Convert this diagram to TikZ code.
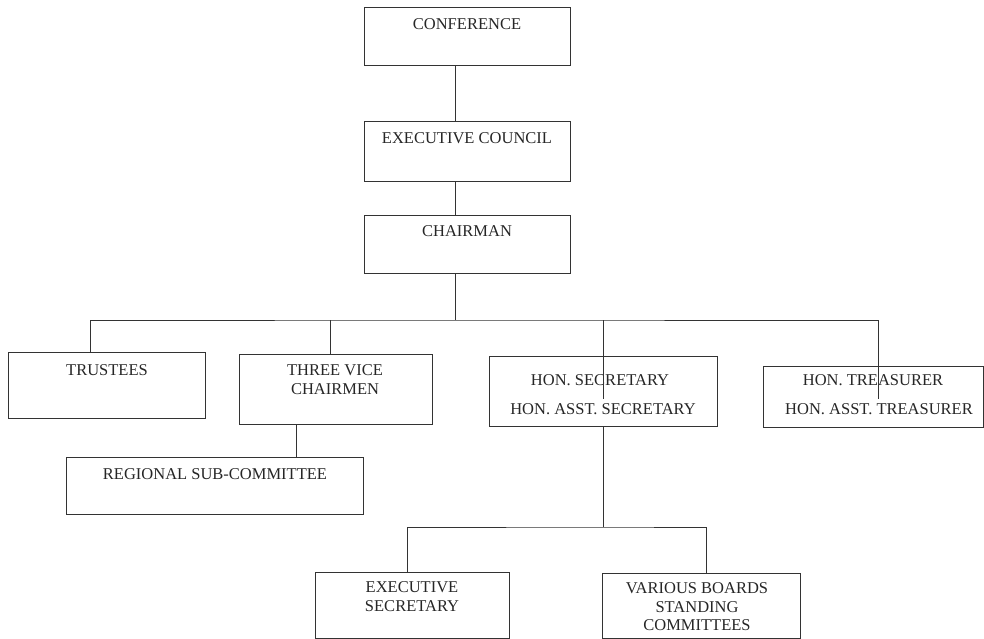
\documentclass[tikz,border=0pt]{standalone}
\usepackage{fontspec}
\setmainfont{Liberation Serif}
\begin{document}
\begin{tikzpicture}[x=1pt,y=-1pt,
  box/.style={draw=black!80, line width=0.9pt, inner sep=0pt, rectangle},
  lbl/.style={anchor=base, inner sep=0pt, text=black!85, font=\fontsize{16.5}{19}\selectfont},
  conn/.style={draw=black!80, line width=0.9pt}]
\useasboundingbox (0,0) rectangle (984,639);
% boxes
\node[box, minimum width=206, minimum height=58] (conf) at (467,36) {};
\node[box, minimum width=206, minimum height=60] (exec) at (467,151) {};
\node[box, minimum width=206, minimum height=58] (chair) at (467,244) {};
\node[box, minimum width=197, minimum height=66] (trust) at (106.5,385) {};
\node[box, minimum width=193, minimum height=70] (vice) at (335.5,389) {};
\node[box, minimum width=297, minimum height=57] (reg) at (214.5,485.5) {};
\node[box, minimum width=228, minimum height=70] (sec) at (603,391) {};
\node[box, minimum width=220, minimum height=61] (tre) at (873,396.5) {};
\node[box, minimum width=194, minimum height=66] (esec) at (412,605) {};
\node[box, minimum width=198, minimum height=65] (var) at (701,605.5) {};
% labels
\node[lbl] (tconf) at (467,29.5) {CONFERENCE};
\node[lbl] (texec) at (467,143.5) {EXECUTIVE COUNCIL};
\node[lbl] (tchair) at (467,236.5) {CHAIRMAN};
\node[lbl] (ttrust) at (107,375.5) {TRUSTEES};
\node[lbl] (tvice1) at (335,375.5) {THREE VICE};
\node[lbl] (tvice2) at (335,394.5) {CHAIRMEN};
\node[lbl] (treg) at (215,479.5) {REGIONAL SUB-COMMITTEE};
\node[lbl] (tsec1) at (600,385.5) {HON. SECRETARY};
\node[lbl] (tsec2) at (603,414.5) {HON. ASST. SECRETARY};
\node[lbl] (ttre1) at (873,385.5) {HON. TREASURER};
\node[lbl] (ttre2) at (879,414.5) {HON. ASST. TREASURER};
\node[lbl] (tesec1) at (412,592.5) {EXECUTIVE};
\node[lbl] (tesec2) at (412,611.5) {SECRETARY};
\node[lbl] (tvar1) at (697,593.5) {VARIOUS BOARDS};
\node[lbl] (tvar2) at (697,612.5) {STANDING};
\node[lbl] (tvar3) at (697,630.5) {COMMITTEES};
% bus coordinates
\coordinate (bus) at (455,320);
\coordinate (bus2) at (603,527);
\coordinate (secend) at (603,399);
\coordinate (treend) at (878,399);
% connectors
\draw[conn] (conf.south -| bus) -- (exec.north -| bus);
\draw[conn] (exec.south -| bus) -- (chair.north -| bus);
\draw[conn] (chair.south -| bus) -- (bus);
\draw[conn] (trust.north -| 90,0) |- (bus) -| (treend);
\draw[conn] (bus -| 330,0) -- (vice.north -| 330,0);
\draw[conn] (bus -| secend) -- (secend);
\draw[conn] (vice.south -| 296,0) -- (reg.north -| 296,0);
\draw[conn] (sec.south) -- (bus2);
\draw[conn] (esec.north -| 407,0) |- (bus2) -| (var.north -| 706,0);
\end{tikzpicture}
\end{document}
